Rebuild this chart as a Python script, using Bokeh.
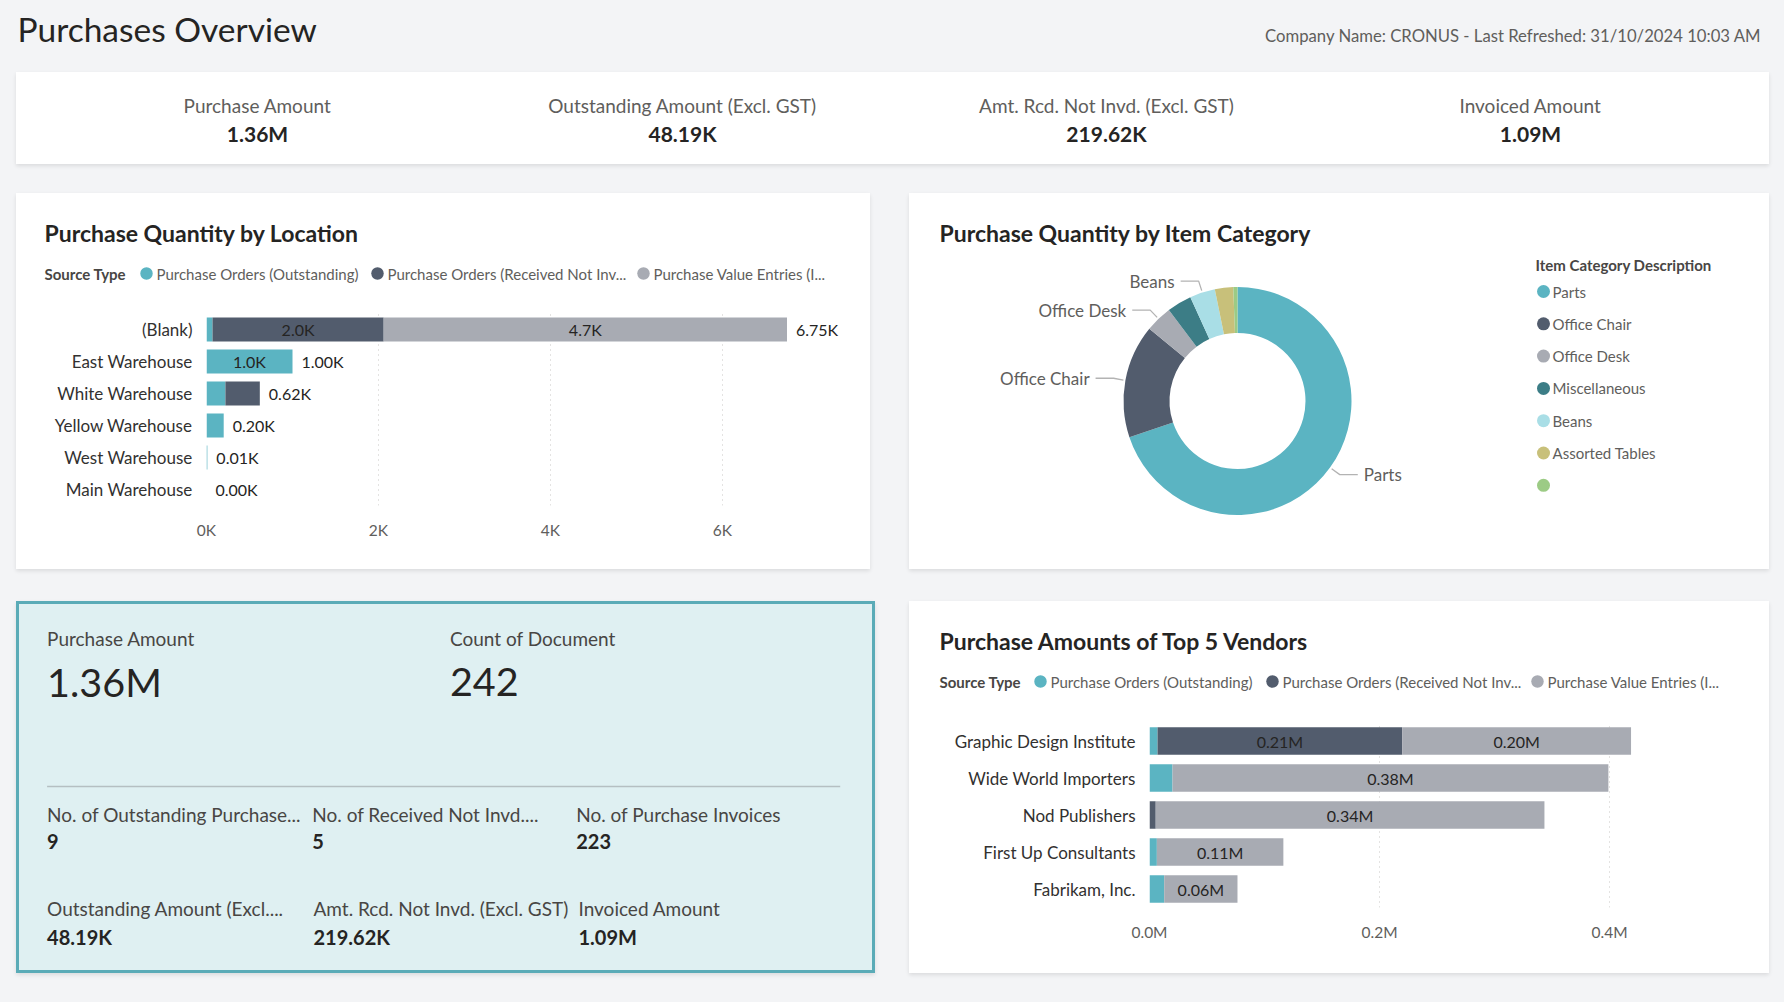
import math
from bokeh.plotting import figure
from bokeh.layouts import column, row
from bokeh.models import Range1d, FactorRange, ColumnDataSource, FixedTicker, Spacer
from bokeh.core.properties import value
from bokeh.embed import file_html
from bokeh.resources import INLINE

# ---------------- data ----------------
page_title = "Purchases Overview"
company_text = "Company Name: CRONUS - Last Refreshed: 31/10/2024 10:03 AM"

kpi_labels = ["Purchase Amount", "Outstanding Amount (Excl. GST)",
              "Amt. Rcd. Not Invd. (Excl. GST)", "Invoiced Amount"]
kpi_values = ["1.36M", "48.19K", "219.62K", "1.09M"]

legend_title = "Source Type"
series_names = ["Purchase Orders (Outstanding)",
                "Purchase Orders (Received Not Inv...",
                "Purchase Value Entries (I..."]

loc_title = "Purchase Quantity by Location"
locations = ["(Blank)", "East Warehouse", "White Warehouse",
             "Yellow Warehouse", "West Warehouse", "Main Warehouse"]
loc_outstanding = [70, 1000, 220, 200, 10, 0]
loc_received = [1990, 0, 400, 0, 0, 0]
loc_value_entries = [4690, 0, 0, 0, 0, 0]
loc_ticks = [0, 2000, 4000, 6000]
loc_tick_labels = ["0K", "2K", "4K", "6K"]

cat_title = "Purchase Quantity by Item Category"
cat_legend_title = "Item Category Description"
categories = ["Parts", "Office Chair", "Office Desk", "Miscellaneous",
              "Beans", "Assorted Tables", ""]
category_qty = [6000, 1380, 326, 300, 309, 223, 51]
labelled_categories = ["Parts", "Office Chair", "Office Desk", "Beans"]

ven_title = "Purchase Amounts of Top 5 Vendors"
vendors = ["Graphic Design Institute", "Wide World Importers", "Nod Publishers",
           "First Up Consultants", "Fabrikam, Inc."]
ven_outstanding = [7000, 20000, 0, 6400, 12800]
ven_received = [212700, 0, 5400, 0, 0]
ven_value_entries = [199000, 379000, 338000, 110000, 63700]
ven_ticks = [0, 200000, 400000]
ven_tick_labels = ["0.0M", "0.2M", "0.4M"]

detail_big_labels = ["Purchase Amount", "Count of Document"]
detail_big_values = ["1.36M", "242"]
detail_row1_labels = ["No. of Outstanding Purchase...", "No. of Received Not Invd....",
                      "No. of Purchase Invoices"]
detail_row1_values = ["9", "5", "223"]
detail_row2_labels = ["Outstanding Amount (Excl....", "Amt. Rcd. Not Invd. (Excl. GST)",
                      "Invoiced Amount"]
detail_row2_values = ["48.19K", "219.62K", "1.09M"]

# ---------------- style ----------------
BG = "#F3F4F6"
FONT = "Lato"
TEAL = "#5BB4C2"
SLATE = "#525C6D"
GREY = "#A8ABB3"
series_colors = [TEAL, SLATE, GREY]
cat_colors = ["#5BB4C2", "#525C6D", "#A8ABB3", "#3C7D86", "#A9DEE6", "#C8C07A", "#9CCB85"]
TXT = "#252423"
SUB = "#605E5C"
CARD = {"box-shadow": "0 2px 4px rgba(0,0,0,0.10)", "background-color": "white"}


def panel(w, h, bg="white"):
    p = figure(width=w, height=h, x_range=Range1d(0, w), y_range=Range1d(h, 0),
               output_backend="svg", toolbar_location=None,
               x_axis_type=None, y_axis_type=None, min_border=0,
               background_fill_color=bg, border_fill_color=bg,
               outline_line_color=None)
    p.grid.visible = False
    return p


def box(fig, styles=None):
    # wrap a single figure so that its frame is not aligned with its neighbours
    return column(fig, width=fig.width, height=fig.height, styles=styles or {})


def txt(p, xs, ys, texts, size, color, align="left", bold=False):
    p.text(x=xs, y=ys, text=texts, text_font=value(FONT),
           text_font_size=value(f"{size}px"), text_color=color,
           text_align=align, text_baseline="middle",
           text_font_style="bold" if bold else "normal")


def chart_header(w, h, title, tx, marker_xs):
    p = panel(w, h)
    txt(p, [tx], [39], [title], 23, TXT, bold=True)
    txt(p, [tx], [80], [legend_title], 15, "#484644", bold=True)
    p.scatter(x=marker_xs, y=[80] * len(marker_xs), size=12.5, color=series_colors,
              line_color=None)
    txt(p, [m + 10 for m in marker_xs], [80] * len(marker_xs), series_names, 15, SUB)
    return p


def style_chart(p, ticks, tick_labels):
    for ax in p.axis:
        ax.axis_line_color = None
        ax.major_tick_line_color = None
        ax.minor_tick_line_color = None
        ax.major_tick_in = 0
        ax.major_tick_out = 0
        ax.major_label_text_font = FONT
        ax.major_label_text_font_size = "17px"
    p.xaxis.ticker = FixedTicker(ticks=ticks)
    p.xaxis.major_label_overrides = dict(zip(ticks, tick_labels))
    p.xaxis.major_label_text_color = SUB
    p.xaxis.major_label_text_font_size = "15.5px"
    p.xaxis.major_label_standoff = 15
    p.yaxis.major_label_text_color = "#323130"
    p.yaxis.major_label_standoff = 14
    p.ygrid.visible = False
    p.xgrid.grid_line_color = "#C8C6C4"
    p.xgrid.grid_line_dash = "1 4"
    p.xgrid.grid_line_width = 1


def inside_labels(names, stacks, threshold, fmt):
    xs, ys, ts = [], [], []
    for i, n in enumerate(names):
        left = 0
        for s in stacks:
            v = s[i]
            if v >= threshold:
                xs.append(left + v / 2)
                ys.append(n)
                ts.append(fmt(v))
            left += v
    return ColumnDataSource(dict(x=xs, y=ys, t=ts))


# ---------------- header ----------------
header = panel(1784, 72, BG)
txt(header, [17], [28], [page_title], 33.5, TXT)
txt(header, [1761], [35], [company_text], 16.7, SUB, align="right")

# ---------------- KPI strip ----------------
kpi = panel(1753, 92)
kpi_x = [241, 666, 1090, 1514]
txt(kpi, kpi_x, [33] * 4, kpi_labels, 19, SUB, align="center")
txt(kpi, kpi_x, [61] * 4, kpi_values, 21, TXT, align="center", bold=True)

# ---------------- Location chart ----------------
loc_head = chart_header(854, 120, loc_title, 28, [130, 361, 627])
loc_src = ColumnDataSource(dict(loc=locations, out=loc_outstanding,
                                rni=loc_received, pve=loc_value_entries))
loc_tot = [a + b + c for a, b, c in zip(loc_outstanding, loc_received, loc_value_entries)]
loc_tot_src = ColumnDataSource(dict(y=locations, x=loc_tot,
                                    t=[f"{v / 1000:.2f}K" for v in loc_tot]))
pl = figure(width=854, height=256, y_range=FactorRange(factors=locations[::-1]),
            x_range=Range1d(0, 7500), output_backend="svg", toolbar_location=None,
            min_border_left=190, min_border_right=19, min_border_top=0,
            min_border_bottom=64, outline_line_color=None,
            background_fill_color="white", border_fill_color="white")
pl.hbar_stack(["out", "rni", "pve"], y="loc", height=0.75, color=series_colors,
              line_color=None, source=loc_src)
li = inside_labels(locations, [loc_outstanding, loc_received, loc_value_entries], 900,
                   lambda v: f"{v / 1000:.1f}K")
pl.text(x="x", y="y", text="t", source=li, text_font=value(FONT), text_font_size="16px",
        text_color=TXT, text_align="center", text_baseline="middle")
pl.text(x="x", y="y", text="t", source=loc_tot_src, x_offset=9, text_font=value(FONT),
        text_font_size="16px", text_color=TXT, text_align="left", text_baseline="middle")
style_chart(pl, loc_ticks, loc_tick_labels)
card2 = column(box(loc_head), box(pl), width=854, height=376, styles=CARD)

# ---------------- Donut ----------------
donut = panel(860, 376)
txt(donut, [30], [39], [cat_title], 23, TXT, bold=True)
total = sum(category_qty)
cx, cy, r_out, r_in = 328, 207.5, 114, 68
starts, ends, mids = [], [], []
cum = 0.0
for q in category_qty:
    a0 = cum / total
    cum += q
    a1 = cum / total
    starts.append(math.pi / 2 - 2 * math.pi * a0)
    ends.append(math.pi / 2 - 2 * math.pi * a1)
    mids.append(2 * math.pi * (a0 + a1) / 2)
donut.annular_wedge(x=cx, y=cy, inner_radius=r_in, outer_radius=r_out,
                    start_angle=starts, end_angle=ends, direction="clock",
                    color=cat_colors, line_color=None)
lx, ly, lbx, lby, lbt, lba = [], [], [], [], [], []
for name, th in zip(categories, mids):
    if name not in labelled_categories:
        continue
    s, c = math.sin(th), math.cos(th)
    x0, y0 = cx + 116 * s, cy - 116 * c
    x1, y1 = cx + 126 * s, cy - 126 * c
    d = 1 if s > 0 else -1
    x2 = x1 + d * 18
    lx.append([x0, x1, x2])
    ly.append([y0, y1, y1])
    lbx.append(x2 + d * 6)
    lby.append(y1)
    lbt.append(name)
    lba.append("left" if d > 0 else "right")
donut.multi_line(xs=lx, ys=ly, line_color="#B3B3B3", line_width=1.3)
donut.text(x=lbx, y=lby, text=lbt, text_align=lba, text_baseline="middle",
           text_font=value(FONT), text_font_size="17px", text_color=SUB)
leg_y = [98 + 32.3 * i for i in range(len(categories))]
txt(donut, [626], [71], [cat_legend_title], 15, "#484644", bold=True)
donut.scatter(x=[634] * len(categories), y=leg_y, size=13, color=cat_colors, line_color=None)
txt(donut, [643] * len(categories), leg_y, categories, 15, SUB)
card3 = box(donut, CARD)

# ---------------- Detail card ----------------
detail = panel(859, 372, "#DFF0F2")
detail.outline_line_color = "#5AABB7"
detail.outline_line_width = 5
txt(detail, [30.6, 433.4], [37.3] * 2, detail_big_labels, 19, "#484644")
txt(detail, [30.6, 433.4], [80] * 2, detail_big_values, 39.5, TXT)
detail.line(x=[30.6, 823.7], y=[185, 185], line_color="#B5BFC2", line_width=1.5)
txt(detail, [30.6, 295.8, 559.7], [212.5] * 3, detail_row1_labels, 19, "#484644")
txt(detail, [30.6, 295.8, 559.7], [240] * 3, detail_row1_values, 20, TXT, bold=True)
txt(detail, [30.6, 297, 562], [307] * 3, detail_row2_labels, 19, "#484644")
txt(detail, [30.6, 297, 562], [335.4] * 3, detail_row2_values, 20, TXT, bold=True)
card4 = box(detail, {"box-shadow": "0 2px 4px rgba(0,0,0,0.10)"})

# ---------------- Vendor chart ----------------
ven_head = chart_header(860, 121, ven_title, 30, [131, 363, 628])
ven_src = ColumnDataSource(dict(v=vendors, out=ven_outstanding,
                                rni=ven_received, pve=ven_value_entries))
pv = figure(width=860, height=251, y_range=FactorRange(factors=vendors[::-1]),
            x_range=Range1d(0, 513000), output_backend="svg", toolbar_location=None,
            min_border_left=240, min_border_right=30, min_border_top=0,
            min_border_bottom=66, outline_line_color=None,
            background_fill_color="white", border_fill_color="white")
pv.hbar_stack(["out", "rni", "pve"], y="v", height=0.74, color=series_colors,
              line_color=None, source=ven_src)
vi = inside_labels(vendors, [ven_outstanding, ven_received, ven_value_entries], 40000,
                   lambda v: f"{v / 1e6:.2f}M")
pv.text(x="x", y="y", text="t", source=vi, text_font=value(FONT), text_font_size="16px",
        text_color=TXT, text_align="center", text_baseline="middle")
style_chart(pv, ven_ticks, ven_tick_labels)
card5 = column(box(ven_head), box(pv), width=860, height=372, styles=CARD)

# ---------------- page ----------------
def sp(w, h):
    return Spacer(width=w, height=h)

row1 = row(sp(16, 92), box(kpi, CARD), width=1784, height=92)
row2 = row(sp(16, 376), card2, sp(39, 376), card3, width=1784, height=376)
row3 = row(sp(16, 372), card4, sp(34, 372), card5, width=1784, height=372)
root = column(box(header), row1, sp(1784, 29), row2, sp(1784, 32), row3, sp(1784, 29),
              width=1784, height=1002, styles={"background-color": BG})

open("out.html", "w").write(file_html(root, INLINE))
